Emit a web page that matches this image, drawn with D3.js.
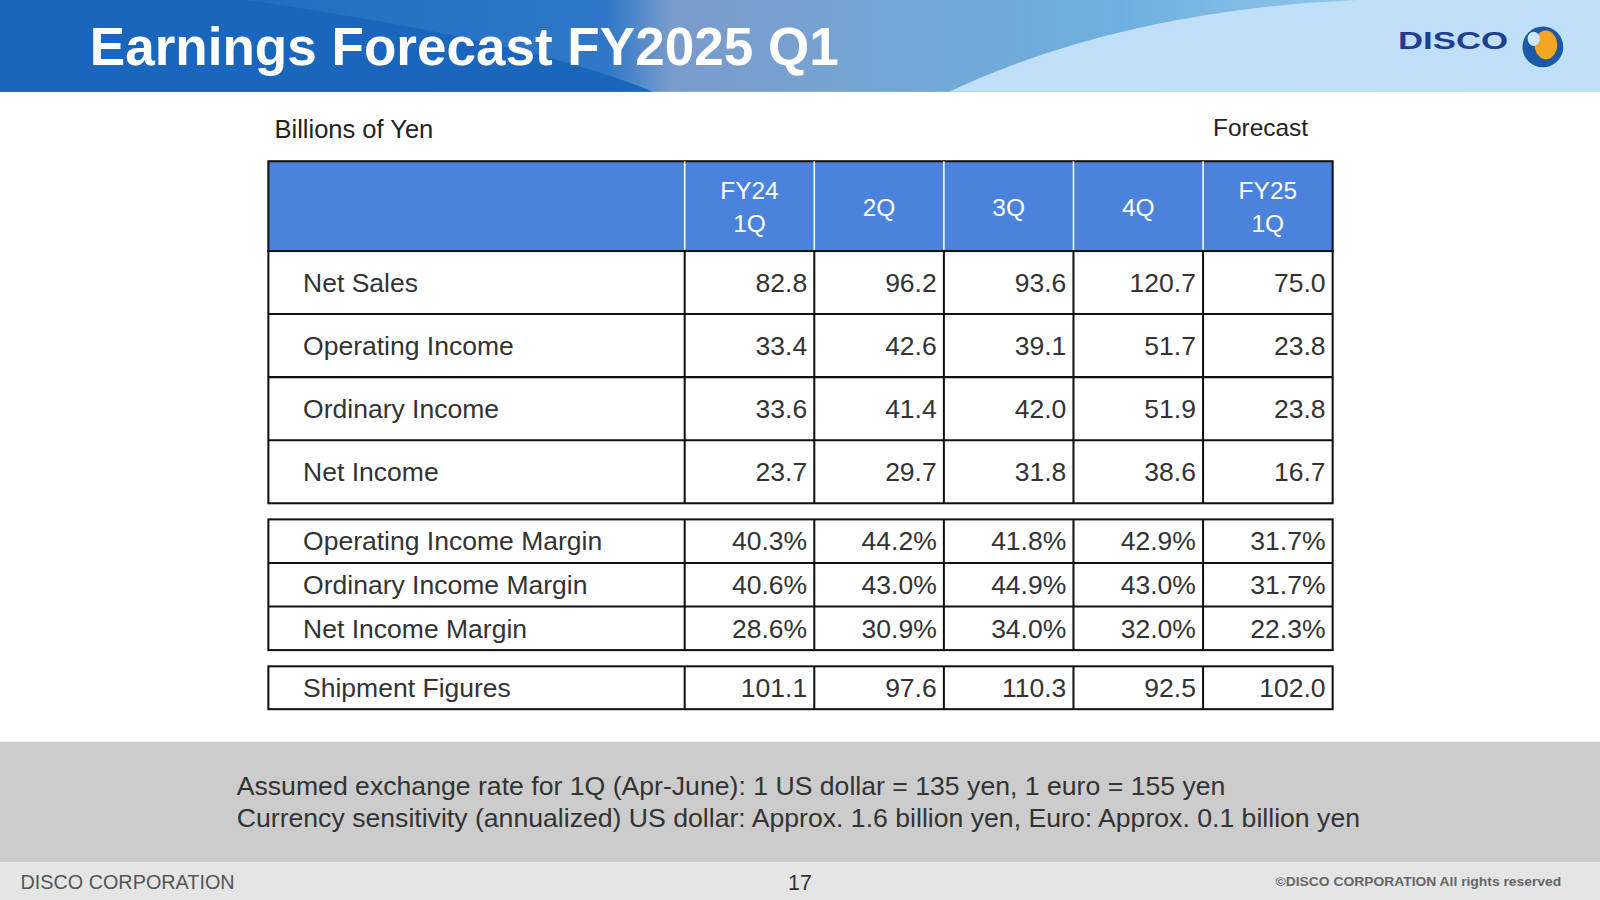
<!DOCTYPE html>
<html><head><meta charset="utf-8">
<script src="https://cdn.jsdelivr.net/npm/d3@7"></script>
<style>body{margin:0;background:#fff;overflow:hidden}svg{display:block}text{font-family:"Liberation Sans",Arial,sans-serif}</style>
</head><body><svg id="c" width="1600" height="900" viewBox="0 0 1568 882"></svg>
<script>
const columns = [["FY24","1Q"],["2Q"],["3Q"],["4Q"],["FY25","1Q"]];
const incomeRows = ["Net Sales","Operating Income","Ordinary Income","Net Income"];
const incomeValues = [
  [82.8,96.2,93.6,120.7,75.0],
  [33.4,42.6,39.1,51.7,23.8],
  [33.6,41.4,42.0,51.9,23.8],
  [23.7,29.7,31.8,38.6,16.7]];
const marginRows = ["Operating Income Margin","Ordinary Income Margin","Net Income Margin"];
const marginValues = [
  [40.3,44.2,41.8,42.9,31.7],
  [40.6,43.0,44.9,43.0,31.7],
  [28.6,30.9,34.0,32.0,22.3]];
const shipRows = ["Shipment Figures"];
const shipValues = [[101.1,97.6,110.3,92.5,102.0]];

const svg = d3.select("#c");
const defs = svg.append("defs");
const g1 = defs.append("linearGradient").attr("id","hg");
[[0,"#1a66bd"],[0.38,"#2f78c8"],[0.42,"#7a9bcb"],[0.7,"#6db0df"],[1,"#b8dcf5"]].forEach(s=>g1.append("stop").attr("offset",s[0]).attr("stop-color",s[1]));
svg.append("rect").attr("width",1568).attr("height",90).attr("fill","url(#hg)");
svg.append("path").attr("d","M0,0 L240,0 Q520,40 640,90 L0,90Z").attr("fill","#1a66bd");
svg.append("path").attr("d","M930,90 Q1100,10 1330,0 L1568,0 L1568,90Z").attr("fill","#bfe0f7");
svg.append("text").attr("x",88).attr("y",64).attr("fill","#fff").attr("font-size",52).attr("font-weight","bold").text("Earnings Forecast FY2025 Q1");
svg.append("text").attr("x",1370).attr("y",48).attr("fill","#1e3f8f").attr("font-size",24).attr("font-weight","900").attr("textLength",108).attr("lengthAdjust","spacingAndGlyphs").text("DISCO");
svg.append("circle").attr("cx",1512).attr("cy",46).attr("r",20).attr("fill","#1a5aa8");
svg.append("ellipse").attr("cx",1515).attr("cy",44).attr("rx",11).attr("ry",14).attr("fill","#f5a623");
svg.append("ellipse").attr("cx",1503).attr("cy",38).attr("rx",6).attr("ry",7).attr("fill","#cfe8ff");

svg.append("text").attr("x",269).attr("y",135).attr("font-size",25).attr("fill","#222").text("Billions of Yen");
svg.append("text").attr("x",1282).attr("y",133).attr("font-size",24).attr("fill","#222").attr("text-anchor","end").text("Forecast");

const colEdges = [263,671,798,925,1052,1179,1306];
svg.append("rect").attr("x",263).attr("y",158).attr("width",1043).attr("height",88).attr("fill","#4a82dc").attr("stroke","#111").attr("stroke-width",2);
columns.forEach((c,i)=>{
  const cx=(colEdges[i+1]+colEdges[i+2])/2;
  svg.append("line").attr("x1",colEdges[i+1]).attr("x2",colEdges[i+1]).attr("y1",158).attr("y2",246).attr("stroke","#fff").attr("stroke-width",1.5);
  c.forEach((t,j)=>svg.append("text").attr("x",cx).attr("y",c.length==1?212:195+j*32).attr("text-anchor","middle").attr("font-size",24).attr("fill","#fff").text(t));
});
function table(rows, vals, y0, rh, fmt){
  const y = d3.scaleLinear().domain([0,rows.length]).range([y0,y0+rh*rows.length]);
  svg.append("rect").attr("x",263).attr("y",y0).attr("width",1043).attr("height",rh*rows.length).attr("fill","none").attr("stroke","#111").attr("stroke-width",2);
  rows.forEach((r,i)=>{
    if(i>0) svg.append("line").attr("x1",263).attr("x2",1306).attr("y1",y(i)).attr("y2",y(i)).attr("stroke","#111").attr("stroke-width",2);
    const ty=(y(i)+y(i+1))/2+9;
    svg.append("text").attr("x",297).attr("y",ty).attr("font-size",26).attr("fill","#333").text(r);
    vals[i].forEach((v,k)=>svg.append("text").attr("x",colEdges[k+2]-7).attr("y",ty).attr("text-anchor","end").attr("font-size",26).attr("fill","#333").text(fmt(v)));
  });
  colEdges.slice(1,-1).forEach(cx=>svg.append("line").attr("x1",cx).attr("x2",cx).attr("y1",y0).attr("y2",y0+rh*rows.length).attr("stroke","#111").attr("stroke-width",2));
}
table(incomeRows,incomeValues,246,61.8,v=>v.toFixed(1));
table(marginRows,marginValues,509,42.7,v=>v.toFixed(1)+"%");
table(shipRows,shipValues,653,42,v=>v.toFixed(1));

svg.append("rect").attr("y",727).attr("width",1568).attr("height",118).attr("fill","#cccccc");
svg.append("text").attr("x",232).attr("y",779).attr("font-size",26.1).attr("fill","#333").text("Assumed exchange rate for 1Q (Apr-June): 1 US dollar = 135 yen, 1 euro = 155 yen");
svg.append("text").attr("x",232).attr("y",810).attr("font-size",26.1).attr("fill","#333").text("Currency sensitivity (annualized) US dollar: Approx. 1.6 billion yen, Euro: Approx. 0.1 billion yen");
svg.append("rect").attr("y",845).attr("width",1568).attr("height",37).attr("fill","#e5e5e5");
svg.append("text").attr("x",20).attr("y",871).attr("font-size",19).attr("fill","#555").attr("textLength",210).attr("lengthAdjust","spacingAndGlyphs").text("DISCO CORPORATION");
svg.append("text").attr("x",784).attr("y",872).attr("font-size",21).attr("fill","#333").attr("text-anchor","middle").text("17");
svg.append("text").attr("x",1250).attr("y",868).attr("font-size",13).attr("fill","#666").attr("font-weight","bold").attr("textLength",280).attr("lengthAdjust","spacingAndGlyphs").text("©DISCO CORPORATION   All rights reserved");
</script></body></html>
